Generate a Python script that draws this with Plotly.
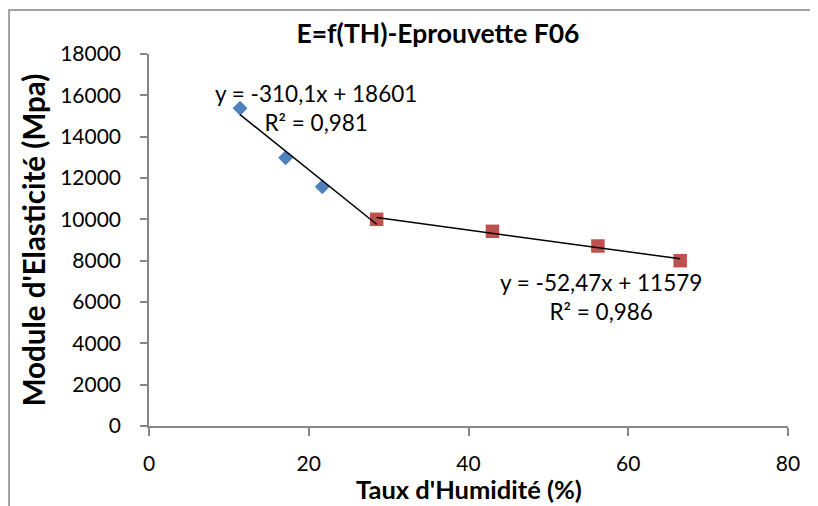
import plotly.graph_objects as go

# Data
th_blue = [11.4, 17.1, 21.7]
e_blue = [15380, 12980, 11580]
th_red = [28.5, 43.0, 56.2, 66.5]
e_red = [10000, 9420, 8710, 8000]

# Trendline coefficients (as displayed)
trend1_slope, trend1_intercept = -310.1, 18601
trend2_slope, trend2_intercept = -52.47, 11579
trend1_label = "y = -310,1x + 18601<br>R² = 0,981"
trend2_label = "y = -52,47x + 11579<br>R² = 0,986"

title = "E=f(TH)-Eprouvette F06"
x_title = "Taux d'Humidité (%)"
y_title = "Module d'Elasticité (Mpa)"

FONT = "Lato"
AX = "#868686"
W, H = 810, 498
ML, MR, MT, MB = 141, 30, 46, 80

t1x = [th_blue[0], th_red[0]]
t1y = [trend1_slope * v + trend1_intercept for v in t1x]
t2x = [th_red[0], th_red[-1]]
t2y = [trend2_slope * v + trend2_intercept for v in t2x]

fig = go.Figure()
fig.add_trace(go.Scatter(x=th_blue, y=e_blue, mode="markers",
                         marker=dict(symbol="diamond", size=11.5, color="#4F81BD"),
                         showlegend=False))
fig.add_trace(go.Scatter(x=th_red, y=e_red, mode="markers",
                         marker=dict(symbol="square", size=13.5, color="#C0504D"),
                         showlegend=False))
fig.add_trace(go.Scatter(x=t1x, y=t1y, mode="lines",
                         line=dict(color="black", width=1.5), showlegend=False))
fig.add_trace(go.Scatter(x=t2x, y=t2y, mode="lines",
                         line=dict(color="black", width=1.5), showlegend=False))

fig.add_annotation(x=20.9, y=15400, text=trend1_label, showarrow=False,
                   font=dict(family=FONT, size=22.5, color="black"), align="center")
fig.add_annotation(x=56.6, y=6220, text=trend2_label, showarrow=False,
                   font=dict(family=FONT, size=22.5, color="black"), align="center")

# x-axis title
fig.add_annotation(xref="paper", yref="paper", x=(468.5 - 8 - ML) / 639,
                   y=(418 - (488.5 - 8)) / 372, xanchor="center", yanchor="middle",
                   text="<b>" + x_title + "</b>", showarrow=False, borderpad=0,
                   font=dict(family=FONT, size=25.5, color="black"))

# chart-area border
fig.add_shape(type="rect", xref="paper", yref="paper",
              x0=-0.219, x1=1.06, y0=-0.3, y1=1.118,
              line=dict(color=AX, width=1.5), layer="below")

fig.update_layout(
    width=W, height=H,
    margin=dict(l=ML, r=MR, t=MT, b=MB),
    paper_bgcolor="white", plot_bgcolor="white",
    title=dict(text="<b>" + title + "</b>", x=(438 - 8) / W, xanchor="center",
               y=1 - (34 - 8) / H, yanchor="middle",
               font=dict(family=FONT, size=26.5, color="black")),
    font=dict(family=FONT, color="black"),
)
fig.update_xaxes(range=[0, 80], dtick=20, tick0=0, showgrid=False, zeroline=False,
                 automargin=False,
                 showline=True, linecolor=AX, linewidth=1.5,
                 ticks="outside", ticklen=8, tickcolor=AX, tickwidth=1.5,
                 tickfont=dict(family=FONT, size=21, color="black"),
                 ticklabelstandoff=10)
fig.update_yaxes(range=[0, 18000], dtick=2000, tick0=0, tickformat="d",
                 showgrid=False, zeroline=False, automargin=False,
                 showline=True, linecolor=AX, linewidth=1.5,
                 ticks="outside", ticklen=7, tickcolor=AX, tickwidth=1.5,
                 tickfont=dict(family=FONT, size=21, color="black"),
                 ticklabelstandoff=15,
                 title=dict(text="<b>" + y_title + "</b>", standoff=6,
                            font=dict(family=FONT, size=29.5, color="black")))

fig.write_html("out.html")
